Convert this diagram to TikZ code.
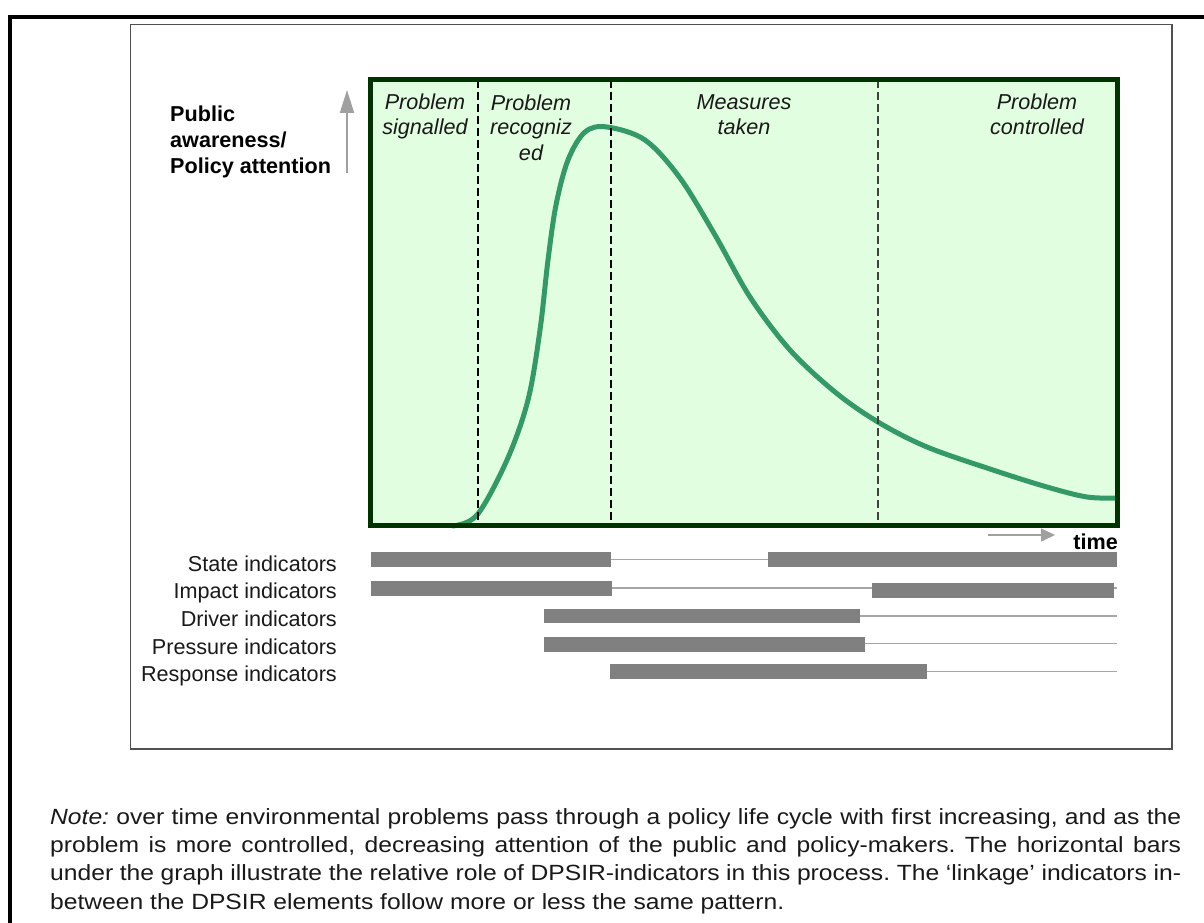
\documentclass[tikz,border=0pt]{standalone}
\usepackage{fontspec}
\setmainfont{Liberation Sans}
\newfontfamily\notefont{Liberation Sans}[FakeStretch=1.12]
\usetikzlibrary{arrows.meta}
\frenchspacing
\definecolor{plotfill}{RGB}{226,254,224}
\definecolor{plotedge}{RGB}{0,51,0}
\definecolor{curvegreen}{RGB}{51,153,102}
\definecolor{bargray}{RGB}{128,128,128}
\definecolor{linegray}{RGB}{165,165,165}
\definecolor{arrowgray}{RGB}{160,160,160}
\definecolor{textdark}{RGB}{25,25,25}
\definecolor{framegray}{RGB}{80,80,80}

\begin{document}
\begin{tikzpicture}[x=1pt,y=-1pt,
  % multi-line nodes are placed by the baseline of their last line
  phase/.style={anchor=base, align=center, inner sep=0, font=\fontsize{21.6}{25}\selectfont\itshape, text=textdark},
  axislabel/.style={anchor=base west, align=left, inner sep=0, font=\fontsize{21.6}{26}\selectfont\bfseries},
  indlabel/.style={anchor=base east, inner sep=0, font=\fontsize{21.6}{26}\selectfont, text=textdark},
  bar/.style={fill=bargray, draw=none},
  track/.style={draw=linegray, line width=1.5},
  divider/.style={dash pattern=on 8pt off 4pt, line width=1.4},
  axisarrow/.style={draw=arrowgray, line width=2},
]
\useasboundingbox (0,0) rectangle (1204,923);

% page frame (top and left rules)
\draw[line width=4, black] (1204,17) -- (10,17) -- (10,923);

% figure frame
\draw[line width=1.5, framegray] (130.5,24.5) rectangle (1172,749);

% plot area
\fill[plotfill] (370,80) rectangle (1117,525);

% attention curve
\draw[curvegreen, line width=5] plot[smooth, tension=0.55] coordinates {
  (452,526) (477,515) (507,460) (528,400) (540,330) (548,260) (556,205)
  (568,160) (585,132) (607,127) (645,140) (680,178) (715,235) (750,297)
  (790,350) (835,392) (878,422) (927,447) (993,470) (1047,487) (1087,497)
  (1117,498)};

% phase dividers
\draw[divider, black] (478,80) -- (478,525);
\draw[divider, black] (611,80) -- (611,525);
\draw[divider, black!75] (878,80) -- (878,525);

% plot border
\draw[plotedge, line width=5] (370,80) rectangle (1117,525);

% phase labels
\node[phase] (ph1) at (425,135) {Problem\\signalled};
\node[phase] (ph2) at (531,160) {Problem\\recogniz\\ed};
\node[phase] (ph3) at (744,135) {Measures\\taken};
\node[phase] (ph4) at (1037,135) {Problem\\controlled};

% vertical axis
\node[axislabel] (ylab) at (170,173) {Public\\awareness/\\Policy attention};
\coordinate (ybot) at (347,173);
\coordinate (ytop) at (347,90);
\draw[axisarrow, -{Triangle[length=23pt,width=14pt]}] (ybot) -- (ytop);

% time axis
\coordinate (tleft) at (988,535);
\coordinate (tright) at (1055,535);
\draw[axisarrow, line width=1.5, -{Triangle[length=14pt,width=13pt]}] (tleft) -- (tright);
\node[anchor=base east, inner sep=0, font=\fontsize{21.6}{26}\selectfont\bfseries] (tlab) at (1118,549) {time};

% indicator rows
\node[indlabel] (lstate) at (337,571) {State indicators};
\node[indlabel] (limpact) at (337,598) {Impact indicators};
\node[indlabel] (ldriver) at (337,626) {Driver indicators};
\node[indlabel] (lpressure) at (337,654) {Pressure indicators};
\node[indlabel] (lresponse) at (337,681) {Response indicators};

% State
\draw[track] (611,559.5) -- (768,559.5);
\fill[bar] (371,552) rectangle (611,567);
\fill[bar] (768,552) rectangle (1117,567);
% Impact
\draw[track] (612,588) -- (1117,588);
\fill[bar] (371,581) rectangle (612,595.5);
\fill[bar] (872,583) rectangle (1114,598);
% Driver
\draw[track] (860,616) -- (1117,616);
\fill[bar] (544,609) rectangle (860,623);
% Pressure
\draw[track] (865,643.5) -- (1117,643.5);
\fill[bar] (544,637) rectangle (865,652);
% Response
\draw[track] (927,671.5) -- (1117,671.5);
\fill[bar] (610,664) rectangle (927,679);

% caption note
\node[anchor=base west, inner sep=0, align=left, font=\notefont\fontsize{22}{28.3}\selectfont, text=textdark] (note) at (50,909) {%
\makebox[1131pt][s]{\textit{Note:} over time environmental problems pass through a policy life cycle with first increasing, and as the}\\
\makebox[1131pt][s]{problem is more controlled, decreasing attention of the public and policy-makers. The horizontal bars}\\
\makebox[1131pt][s]{under the graph illustrate the relative role of DPSIR-indicators in this process. The ‘linkage’ indicators in-}\\
between the DPSIR elements follow more or less the same pattern.};
\end{tikzpicture}
\end{document}
